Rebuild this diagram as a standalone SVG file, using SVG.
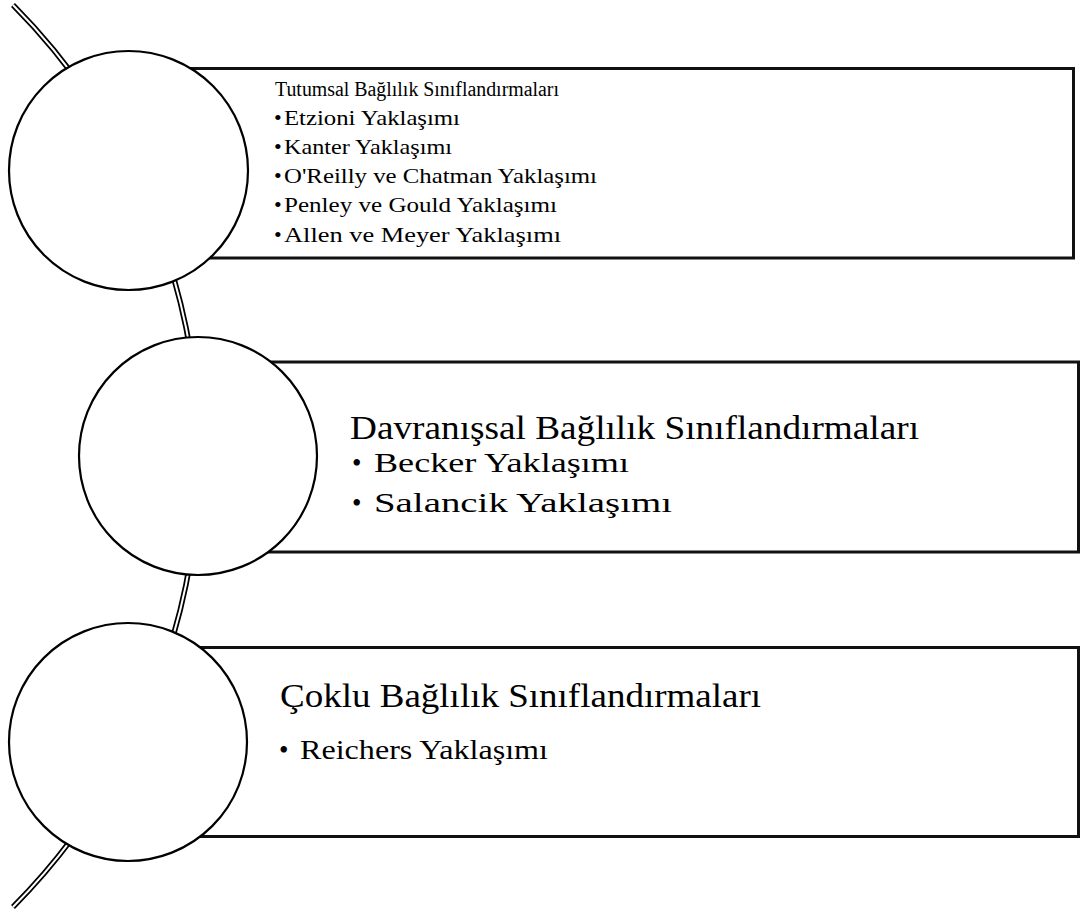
<svg xmlns="http://www.w3.org/2000/svg" width="1084" height="915" viewBox="0 0 1084 915">
<style>
.bg{fill:#fff}
.box{fill:#fff;stroke:#111;stroke-width:3}
.circ{fill:#fff;stroke:#000;stroke-width:2.2}
.arcO{fill:none;stroke:#000;stroke-width:5.5}
.arcI{fill:none;stroke:#fff;stroke-width:2}
text{font-family:"Liberation Serif","Times New Roman",serif;fill:#000}
.t1{font-size:20px}
.i1{font-size:22px}
.t2{font-size:33px}
.s2{font-size:27px}
</style>
<rect class="bg" x="0" y="0" width="1084" height="915"/>
<g id="connectors">
<path class="arcO" d="M13,5 A640,640 0 0 1 13,907"/>
<path class="arcI" d="M13,5 A640,640 0 0 1 13,907"/>
</g>
<g id="node1">
<rect class="box" x="128" y="68.5" width="945.5" height="189.5"/>
<circle class="circ" cx="128.5" cy="170.5" r="119.5"/>
<text class="t1" x="275" y="96" textLength="284" lengthAdjust="spacingAndGlyphs">Tutumsal Bağlılık Sınıflandırmaları</text>
<text class="i1" x="274" y="125">•</text><text class="i1" x="284" y="125" textLength="176" lengthAdjust="spacingAndGlyphs">Etzioni Yaklaşımı</text>
<text class="i1" x="274" y="154.3">•</text><text class="i1" x="284" y="154.3" textLength="168" lengthAdjust="spacingAndGlyphs">Kanter Yaklaşımı</text>
<text class="i1" x="274" y="183.3">•</text><text class="i1" x="284" y="183.3" textLength="313" lengthAdjust="spacingAndGlyphs">O'Reilly ve Chatman Yaklaşımı</text>
<text class="i1" x="274" y="212.3">•</text><text class="i1" x="284" y="212.3" textLength="273" lengthAdjust="spacingAndGlyphs">Penley ve Gould Yaklaşımı</text>
<text class="i1" x="274" y="241.7">•</text><text class="i1" x="284" y="241.7" textLength="277" lengthAdjust="spacingAndGlyphs">Allen ve Meyer Yaklaşımı</text>
</g>
<g id="node2">
<rect class="box" x="198" y="362" width="880.5" height="190"/>
<circle class="circ" cx="198" cy="456" r="119"/>
<text class="t2" x="350" y="439" textLength="569" lengthAdjust="spacingAndGlyphs">Davranışsal Bağlılık Sınıflandırmaları</text>
<text class="s2" x="352" y="472">•</text><text class="s2" x="374" y="472" textLength="255" lengthAdjust="spacingAndGlyphs">Becker Yaklaşımı</text>
<text class="s2" x="352" y="512">•</text><text class="s2" x="374" y="512" textLength="298" lengthAdjust="spacingAndGlyphs">Salancik Yaklaşımı</text>
</g>
<g id="node3">
<rect class="box" x="128" y="647.5" width="950.5" height="189"/>
<circle class="circ" cx="128" cy="742" r="119"/>
<text class="t2" x="280" y="707" textLength="481" lengthAdjust="spacingAndGlyphs">Çoklu Bağlılık Sınıflandırmaları</text>
<text class="s2" x="279" y="759">•</text><text class="s2" x="300" y="759" textLength="248" lengthAdjust="spacingAndGlyphs">Reichers Yaklaşımı</text>
</g>
</svg>
